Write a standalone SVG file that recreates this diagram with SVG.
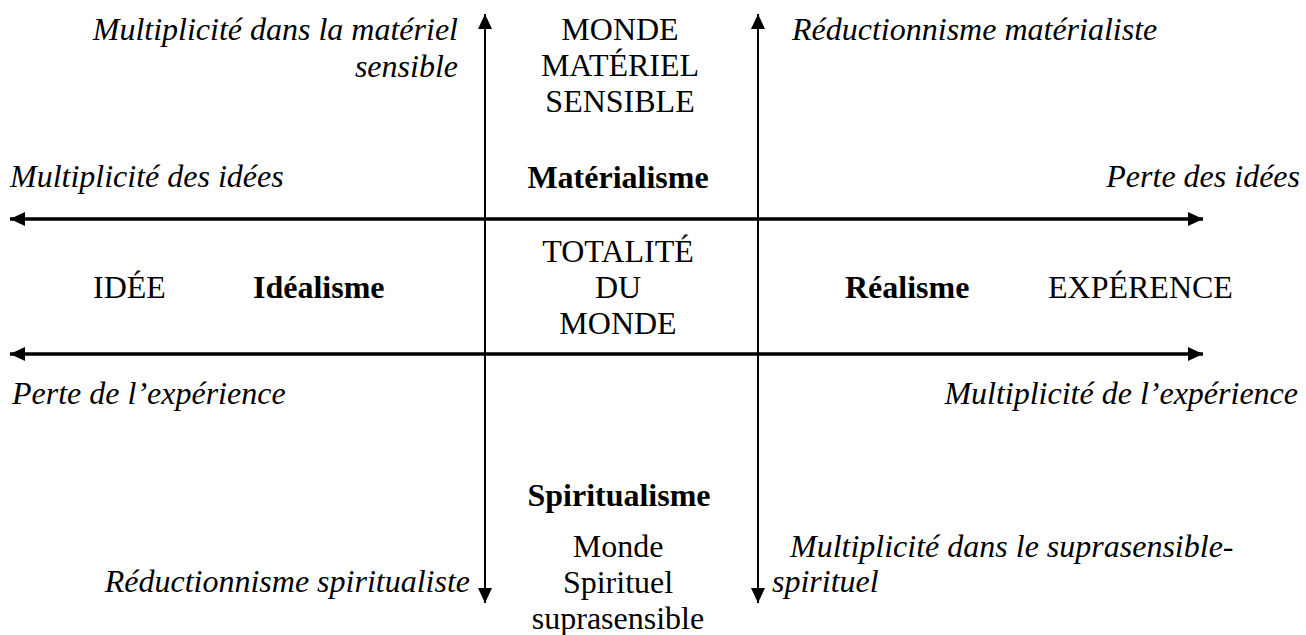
<svg xmlns="http://www.w3.org/2000/svg" width="1306" height="635" viewBox="0 0 1306 635">
<style>
text{font-family:'Liberation Serif','Times New Roman',Tinos,'DejaVu Serif',serif;font-size:32px;fill:#000}
.i{font-style:italic}
.b{font-weight:bold}
.m{text-anchor:middle}
.e{text-anchor:end}
.h{stroke:#000;stroke-width:3.5;fill:none}
.v{stroke:#000;stroke-width:2;fill:none}
</style>
<defs>
<marker id="ah" markerUnits="userSpaceOnUse" markerWidth="15" markerHeight="14" refX="15" refY="7" orient="auto-start-reverse" viewBox="0 0 15 14">
<path d="M0,0 L15,7 L0,14 z" fill="#000"/>
</marker>
</defs>
<rect width="1306" height="635" fill="#fff"/>
<g id="connectors">
<line class="h" x1="10" y1="219" x2="1203" y2="219" marker-start="url(#ah)" marker-end="url(#ah)"/>
<line class="h" x1="10" y1="354" x2="1203" y2="354" marker-start="url(#ah)" marker-end="url(#ah)"/>
<line class="v" x1="485" y1="14" x2="485" y2="603" marker-start="url(#ah)" marker-end="url(#ah)"/>
<line class="v" x1="758" y1="14" x2="758" y2="603" marker-start="url(#ah)" marker-end="url(#ah)"/>
</g>
<g font-family="Liberation Serif, serif">
<g id="monde-materiel">
<text class="m" x="620" y="40">MONDE</text>
<text class="m" x="620" y="76">MATÉRIEL</text>
<text class="m" x="620" y="112">SENSIBLE</text>
</g>
<g id="multiplicite-materiel">
<text class="i e" x="458" y="40">Multiplicité dans la matériel</text>
<text class="i e" x="458" y="77">sensible</text>
</g>
<g id="reductionnisme-materialiste">
<text class="i" x="792" y="40">Réductionnisme matérialiste</text>
</g>
<g id="multiplicite-idees">
<text class="i" x="10" y="187">Multiplicité des idées</text>
</g>
<g id="materialisme">
<text class="b m" x="618" y="188">Matérialisme</text>
</g>
<g id="perte-idees">
<text class="i e" x="1300" y="187">Perte des idées</text>
</g>
<g id="totalite">
<text class="m" x="618" y="262">TOTALITÉ</text>
<text class="m" x="618" y="298">DU</text>
<text class="m" x="618" y="334">MONDE</text>
</g>
<g id="idee">
<text x="93" y="298">IDÉE</text>
</g>
<g id="idealisme">
<text class="b" x="253" y="298">Idéalisme</text>
</g>
<g id="realisme">
<text class="b" x="845" y="298">Réalisme</text>
</g>
<g id="experence">
<text x="1048" y="298">EXPÉRENCE</text>
</g>
<g id="perte-experience">
<text class="i" x="12" y="404">Perte de l’expérience</text>
</g>
<g id="multiplicite-experience">
<text class="i e" x="1298" y="404">Multiplicité de l’expérience</text>
</g>
<g id="spiritualisme">
<text class="b m" x="619" y="506">Spiritualisme</text>
</g>
<g id="monde-spirituel">
<text class="m" x="618" y="557">Monde</text>
<text class="m" x="618" y="593">Spirituel</text>
<text class="m" x="618" y="629">suprasensible</text>
</g>
<g id="reductionnisme-spiritualiste">
<text class="i e" x="470" y="592">Réductionnisme spiritualiste</text>
</g>
<g id="multiplicite-suprasensible">
<text class="i" x="790" y="557">Multiplicité dans le suprasensible-</text>
<text class="i" x="772" y="592">spirituel</text>
</g>
</g>
</svg>
